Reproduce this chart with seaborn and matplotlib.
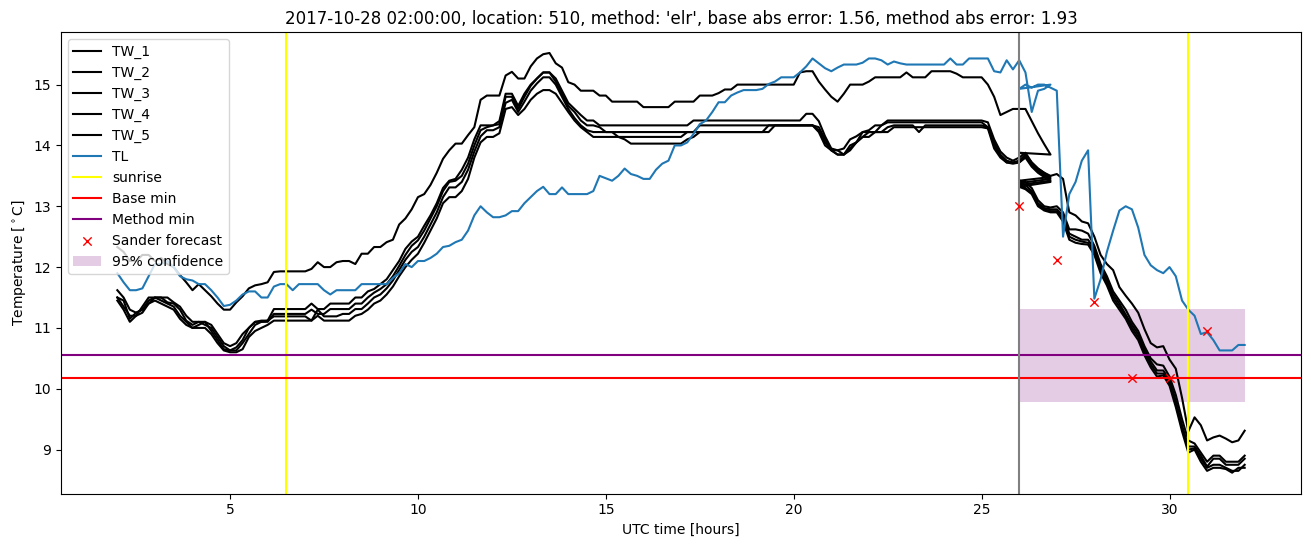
import numpy as np
import pandas as pd
import matplotlib
matplotlib.use("Agg")
import matplotlib.pyplot as plt
import seaborn as sns

# ---------------- data (10-minute samples) ----------------
# first pass: 2.0 .. 26.833 h (150 samples); after the DST change the clock
# repeats 26.0 .. 32.0 h (37 samples)
t_first = np.arange(150) / 6 + 2.0
t_second = np.arange(37) / 6 + 26.0

TL_first = [
    11.90, 11.75, 11.62, 11.62, 11.65, 11.85,
    12.05, 12.05, 12.10, 12.00, 11.85, 11.80,
    11.78, 11.72, 11.72, 11.62, 11.50, 11.36,
    11.38, 11.45, 11.55, 11.60, 11.60, 11.50,
    11.50, 11.68, 11.72, 11.72, 11.62, 11.72,
    11.72, 11.72, 11.72, 11.62, 11.55, 11.62,
    11.62, 11.62, 11.62, 11.72, 11.72, 11.72,
    11.72, 11.72, 11.82, 11.90, 12.05, 12.00,
    12.10, 12.10, 12.15, 12.22, 12.33, 12.35,
    12.41, 12.45, 12.60, 12.85, 13.00, 12.90,
    12.82, 12.82, 12.85, 12.92, 12.92, 13.05,
    13.15, 13.25, 13.32, 13.20, 13.20, 13.31,
    13.20, 13.20, 13.20, 13.20, 13.25, 13.50,
    13.46, 13.42, 13.50, 13.62, 13.53, 13.50,
    13.45, 13.45, 13.60, 13.70, 13.75, 14.00,
    14.00, 14.05, 14.19, 14.35, 14.41, 14.55,
    14.71, 14.71, 14.82, 14.87, 14.91, 14.91,
    14.91, 14.93, 15.01, 15.05, 15.12, 15.12,
    15.12, 15.20, 15.30, 15.43, 15.35, 15.27,
    15.22, 15.28, 15.33, 15.33, 15.33, 15.36,
    15.43, 15.43, 15.40, 15.33, 15.38, 15.35,
    15.33, 15.33, 15.33, 15.33, 15.33, 15.33,
    15.33, 15.43, 15.33, 15.33, 15.43, 15.43,
    15.43, 15.43, 15.22, 15.20, 15.40, 15.25,
    15.40, 15.20, 14.55, 14.90, 14.93, 15.00,
]
TL_second = [
    14.93, 15.00, 14.95, 15.00, 15.00, 14.95,
    14.90, 12.50, 13.20, 13.40, 13.75, 13.92,
    11.48, 11.80, 12.25, 12.60, 12.93, 13.00,
    12.95, 12.65, 12.20, 12.03, 11.95, 11.90,
    12.00, 11.85, 11.45, 11.30, 11.20, 10.90,
    10.93, 10.80, 10.63, 10.63, 10.63, 10.72,
    10.72,
]

TW1_first = [
    12.33, 12.25, 12.10, 12.10, 12.20, 12.20,
    12.10, 12.15, 12.05, 12.00, 11.87, 11.75,
    11.62, 11.72, 11.62, 11.52, 11.40, 11.30,
    11.30, 11.42, 11.52, 11.65, 11.70, 11.72,
    11.75, 11.92, 11.93, 11.93, 11.93, 11.93,
    11.93, 11.97, 12.08, 12.00, 12.00, 12.08,
    12.10, 12.10, 12.05, 12.22, 12.22, 12.33,
    12.33, 12.41, 12.45, 12.70, 12.80, 12.95,
    13.15, 13.20, 13.35, 13.55, 13.78, 13.92,
    14.03, 14.03, 14.17, 14.30, 14.75, 14.82,
    14.82, 14.82, 15.15, 15.21, 15.10, 15.10,
    15.30, 15.43, 15.50, 15.52, 15.35, 15.28,
    15.04, 15.00, 14.90, 14.90, 14.90, 14.82,
    14.82, 14.72, 14.72, 14.72, 14.72, 14.72,
    14.63, 14.63, 14.63, 14.63, 14.63, 14.72,
    14.72, 14.72, 14.72, 14.82, 14.82, 14.82,
    14.86, 14.92, 14.92, 15.00, 15.00, 15.00,
    15.00, 15.00, 15.00, 15.00, 15.00, 15.00,
    15.00, 15.20, 15.22, 15.22, 15.05, 14.92,
    14.80, 14.72, 14.85, 15.00, 15.00, 15.00,
    15.05, 15.12, 15.12, 15.12, 15.12, 15.12,
    15.20, 15.12, 15.12, 15.12, 15.22, 15.22,
    15.22, 15.22, 15.18, 15.12, 15.12, 15.12,
    15.12, 15.00, 14.80, 14.50, 14.55, 14.60,
    14.60, 14.60, 14.40, 14.20, 14.02, 13.85,
]
TW1_second = [
    13.88, 13.85, 13.72, 13.62, 13.55, 13.50,
    13.53, 13.45, 12.90, 12.85, 12.75, 12.72,
    12.50, 12.20, 12.05, 11.95, 11.67, 11.53,
    11.40, 11.25, 10.98, 10.75, 10.68, 10.70,
    10.48, 10.33, 9.85, 9.30, 9.53, 9.40,
    9.15, 9.20, 9.23, 9.18, 9.12, 9.15,
    9.31,
]

TW2_first = [
    11.62, 11.50, 11.30, 11.25, 11.30, 11.45,
    11.50, 11.50, 11.50, 11.42, 11.35, 11.20,
    11.10, 11.10, 11.10, 11.05, 10.90, 10.75,
    10.70, 10.75, 10.90, 11.00, 11.10, 11.12,
    11.12, 11.31, 11.31, 11.31, 11.31, 11.31,
    11.31, 11.40, 11.31, 11.31, 11.40, 11.40,
    11.40, 11.40, 11.50, 11.50, 11.60, 11.64,
    11.72, 11.80, 11.95, 12.10, 12.30, 12.42,
    12.50, 12.68, 12.85, 13.05, 13.30, 13.42,
    13.45, 13.60, 13.80, 14.10, 14.33, 14.33,
    14.33, 14.40, 14.85, 14.85, 14.65, 14.85,
    15.00, 15.10, 15.20, 15.20, 15.10, 14.90,
    14.70, 14.60, 14.50, 14.41, 14.41, 14.33,
    14.33, 14.33, 14.33, 14.33, 14.33, 14.33,
    14.33, 14.33, 14.33, 14.33, 14.33, 14.33,
    14.33, 14.33, 14.41, 14.41, 14.41, 14.41,
    14.41, 14.41, 14.41, 14.41, 14.41, 14.41,
    14.41, 14.41, 14.41, 14.41, 14.41, 14.41,
    14.41, 14.41, 14.52, 14.52, 14.40, 14.15,
    13.95, 13.92, 13.95, 14.10, 14.15, 14.22,
    14.25, 14.33, 14.33, 14.41, 14.41, 14.41,
    14.41, 14.41, 14.41, 14.41, 14.41, 14.41,
    14.41, 14.41, 14.41, 14.41, 14.41, 14.41,
    14.41, 14.38, 14.10, 13.90, 13.80, 13.75,
    13.80, 13.88, 13.72, 13.62, 13.55, 13.48,
]
TW2_second = [
    13.42, 13.40, 13.30, 13.10, 13.00, 12.98,
    13.00, 12.90, 12.62, 12.62, 12.60, 12.55,
    12.35, 12.05, 11.85, 11.60, 11.45, 11.30,
    11.10, 10.95, 10.70, 10.50, 10.40, 10.38,
    10.20, 9.90, 9.50, 9.15, 9.10, 8.95,
    8.80, 8.90, 8.90, 8.80, 8.80, 8.80,
    8.90,
]

TW3_first = [
    11.50, 11.45, 11.15, 11.25, 11.30, 11.40,
    11.50, 11.50, 11.42, 11.40, 11.30, 11.12,
    11.05, 11.10, 11.05, 11.00, 10.85, 10.70,
    10.63, 10.68, 10.80, 11.00, 11.10, 11.10,
    11.10, 11.23, 11.23, 11.23, 11.23, 11.23,
    11.23, 11.30, 11.23, 11.23, 11.31, 11.31,
    11.31, 11.31, 11.40, 11.40, 11.50, 11.58,
    11.64, 11.72, 11.85, 12.02, 12.20, 12.35,
    12.44, 12.60, 12.80, 13.00, 13.25, 13.40,
    13.42, 13.50, 13.70, 14.00, 14.25, 14.30,
    14.33, 14.35, 14.80, 14.80, 14.60, 14.80,
    14.98, 15.10, 15.20, 15.20, 15.05, 14.85,
    14.65, 14.55, 14.41, 14.33, 14.33, 14.30,
    14.22, 14.22, 14.22, 14.22, 14.22, 14.22,
    14.22, 14.22, 14.22, 14.22, 14.22, 14.22,
    14.22, 14.22, 14.22, 14.33, 14.33, 14.33,
    14.33, 14.33, 14.33, 14.33, 14.33, 14.33,
    14.33, 14.33, 14.33, 14.33, 14.33, 14.33,
    14.33, 14.33, 14.33, 14.33, 14.30, 14.10,
    13.92, 13.85, 13.85, 14.00, 14.05, 14.22,
    14.22, 14.22, 14.33, 14.38, 14.38, 14.38,
    14.38, 14.38, 14.38, 14.38, 14.38, 14.38,
    14.38, 14.38, 14.38, 14.38, 14.38, 14.38,
    14.38, 14.30, 14.05, 13.85, 13.75, 13.72,
    13.75, 13.85, 13.70, 13.60, 13.52, 13.45,
]
TW3_second = [
    13.38, 13.35, 13.25, 13.05, 12.97, 12.95,
    12.95, 12.85, 12.55, 12.50, 12.45, 12.45,
    12.30, 12.00, 11.80, 11.55, 11.40, 11.22,
    11.05, 10.90, 10.65, 10.45, 10.30, 10.30,
    10.15, 9.80, 9.40, 9.05, 9.05, 8.90,
    8.72, 8.85, 8.85, 8.75, 8.75, 8.75,
    8.85,
]

TW4_first = [
    11.50, 11.35, 11.20, 11.20, 11.35, 11.50,
    11.50, 11.45, 11.40, 11.35, 11.20, 11.10,
    11.00, 11.05, 11.10, 10.95, 10.80, 10.65,
    10.63, 10.63, 10.75, 10.90, 11.05, 11.10,
    11.12, 11.19, 11.19, 11.19, 11.19, 11.19,
    11.19, 11.12, 11.30, 11.19, 11.19, 11.19,
    11.23, 11.23, 11.31, 11.31, 11.40, 11.50,
    11.55, 11.65, 11.78, 11.95, 12.12, 12.25,
    12.33, 12.50, 12.70, 12.90, 13.15, 13.31,
    13.31, 13.40, 13.60, 13.90, 14.15, 14.25,
    14.25, 14.30, 14.70, 14.75, 14.55, 14.72,
    14.90, 15.02, 15.12, 15.12, 15.00, 14.80,
    14.60, 14.45, 14.33, 14.25, 14.22, 14.22,
    14.22, 14.22, 14.14, 14.14, 14.14, 14.14,
    14.14, 14.14, 14.14, 14.14, 14.14, 14.14,
    14.14, 14.22, 14.22, 14.22, 14.22, 14.22,
    14.22, 14.22, 14.22, 14.22, 14.22, 14.22,
    14.22, 14.22, 14.33, 14.33, 14.33, 14.33,
    14.33, 14.33, 14.33, 14.33, 14.25, 14.05,
    13.92, 13.85, 13.85, 13.95, 14.05, 14.14,
    14.22, 14.22, 14.22, 14.30, 14.33, 14.33,
    14.33, 14.33, 14.22, 14.33, 14.33, 14.33,
    14.33, 14.33, 14.33, 14.33, 14.33, 14.33,
    14.33, 14.30, 14.00, 13.82, 13.72, 13.72,
    13.72, 13.82, 13.68, 13.58, 13.50, 13.42,
]
TW4_second = [
    13.35, 13.30, 13.22, 13.02, 12.95, 12.92,
    12.92, 12.80, 12.50, 12.45, 12.42, 12.40,
    12.25, 11.95, 11.75, 11.50, 11.35, 11.18,
    11.00, 10.85, 10.60, 10.40, 10.25, 10.25,
    10.10, 9.75, 9.35, 9.00, 9.02, 8.85,
    8.70, 8.75, 8.75, 8.70, 8.65, 8.65,
    8.75,
]

TW5_first = [
    11.45, 11.30, 11.10, 11.20, 11.25, 11.40,
    11.45, 11.40, 11.35, 11.30, 11.15, 11.05,
    11.00, 11.00, 11.00, 10.90, 10.75, 10.63,
    10.60, 10.60, 10.65, 10.85, 10.95, 11.00,
    11.05, 11.12, 11.12, 11.12, 11.12, 11.12,
    11.12, 11.12, 11.20, 11.12, 11.12, 11.12,
    11.12, 11.12, 11.20, 11.23, 11.30, 11.40,
    11.45, 11.55, 11.68, 11.85, 12.00, 12.12,
    12.22, 12.40, 12.60, 12.80, 13.05, 13.15,
    13.15, 13.25, 13.45, 13.80, 14.05, 14.14,
    14.14, 14.20, 14.60, 14.63, 14.50, 14.60,
    14.75, 14.85, 14.91, 14.91, 14.85, 14.70,
    14.55, 14.41, 14.30, 14.22, 14.14, 14.14,
    14.14, 14.14, 14.14, 14.10, 14.03, 14.03,
    14.03, 14.03, 14.03, 14.03, 14.03, 14.03,
    14.03, 14.10, 14.14, 14.22, 14.22, 14.22,
    14.22, 14.22, 14.22, 14.22, 14.22, 14.22,
    14.22, 14.22, 14.22, 14.33, 14.33, 14.33,
    14.33, 14.33, 14.33, 14.33, 14.22, 14.00,
    13.92, 13.92, 13.85, 13.92, 14.05, 14.14,
    14.14, 14.22, 14.22, 14.22, 14.30, 14.30,
    14.30, 14.30, 14.30, 14.30, 14.30, 14.30,
    14.30, 14.30, 14.30, 14.30, 14.30, 14.30,
    14.30, 14.28, 13.95, 13.80, 13.72, 13.70,
    13.72, 13.80, 13.65, 13.55, 13.48, 13.40,
]
TW5_second = [
    13.32, 13.28, 13.20, 13.00, 12.93, 12.90,
    12.90, 12.75, 12.45, 12.40, 12.38, 12.37,
    12.20, 11.90, 11.70, 11.45, 11.30, 11.15,
    10.95, 10.80, 10.55, 10.35, 10.20, 10.22,
    10.05, 9.70, 9.30, 8.95, 9.00, 8.80,
    8.65, 8.70, 8.70, 8.68, 8.62, 8.70,
    8.70,
]

sunrise_hours = [6.5, 30.5]
forecast_hour = 26.0
base_min = 10.17
method_min = 10.55

sander_hours = [26, 27, 28, 29, 30, 31]
sander_temps = [13.00, 12.12, 11.43, 10.18, 10.17, 10.95]

conf_hours = [26.0, 32.0]
conf_low = 9.79
conf_high = 11.31

title = ("2017-10-28 02:00:00, location: 510, method: 'elr', "
         "base abs error: 1.56, method abs error: 1.93")

# ---------------- plot ----------------
plt.rcParams['font.family'] = ['DejaVu Sans']
fig, ax = plt.subplots(figsize=(13.11, 5.47), dpi=100)
fig.subplots_adjust(left=0.0465, right=0.9924, top=0.9415, bottom=0.0975)

t_all = np.concatenate([t_first, t_second])
tw_series = [
    ("TW_1", TW1_first, TW1_second),
    ("TW_2", TW2_first, TW2_second),
    ("TW_3", TW3_first, TW3_second),
    ("TW_4", TW4_first, TW4_second),
    ("TW_5", TW5_first, TW5_second),
]
for name, a, b in tw_series:
    y = np.concatenate([a, b])
    sns.lineplot(x=t_all, y=y, sort=False, estimator=None, color="black",
                 linewidth=1.5, label=name, ax=ax)

sns.lineplot(x=t_all, y=np.concatenate([TL_first, TL_second]), sort=False,
             estimator=None, color="#1f77b4", linewidth=1.5, label="TL", ax=ax)

for i, s in enumerate(sunrise_hours):
    ax.axvline(s, color="yellow", linewidth=1.5,
               label="sunrise" if i == 0 else None)
ax.axhline(base_min, color="red", linewidth=1.5, label="Base min")
ax.axhline(method_min, color="purple", linewidth=1.5, label="Method min")
ax.axvline(forecast_hour, color="gray", linewidth=1.5)

sns.scatterplot(x=sander_hours, y=sander_temps, marker="x", color="red",
                s=36, linewidth=1.0, label="Sander forecast", ax=ax, zorder=3)

ax.fill_between(conf_hours, [conf_low, conf_low], [conf_high, conf_high],
                color="purple", alpha=0.2, linewidth=0, label="95% confidence")

ax.set_title(title, fontsize=12)
ax.set_xlabel("UTC time [hours]")
ax.set_ylabel(r"Temperature [$^\circ$C]")

handles, labels = ax.get_legend_handles_labels()
order = ["TW_1", "TW_2", "TW_3", "TW_4", "TW_5", "TL", "sunrise",
         "Base min", "Method min", "Sander forecast", "95% confidence"]
hmap = dict(zip(labels, handles))
ax.legend([hmap[k] for k in order], order, loc="upper left")

fig.savefig("out.png", dpi=100)
